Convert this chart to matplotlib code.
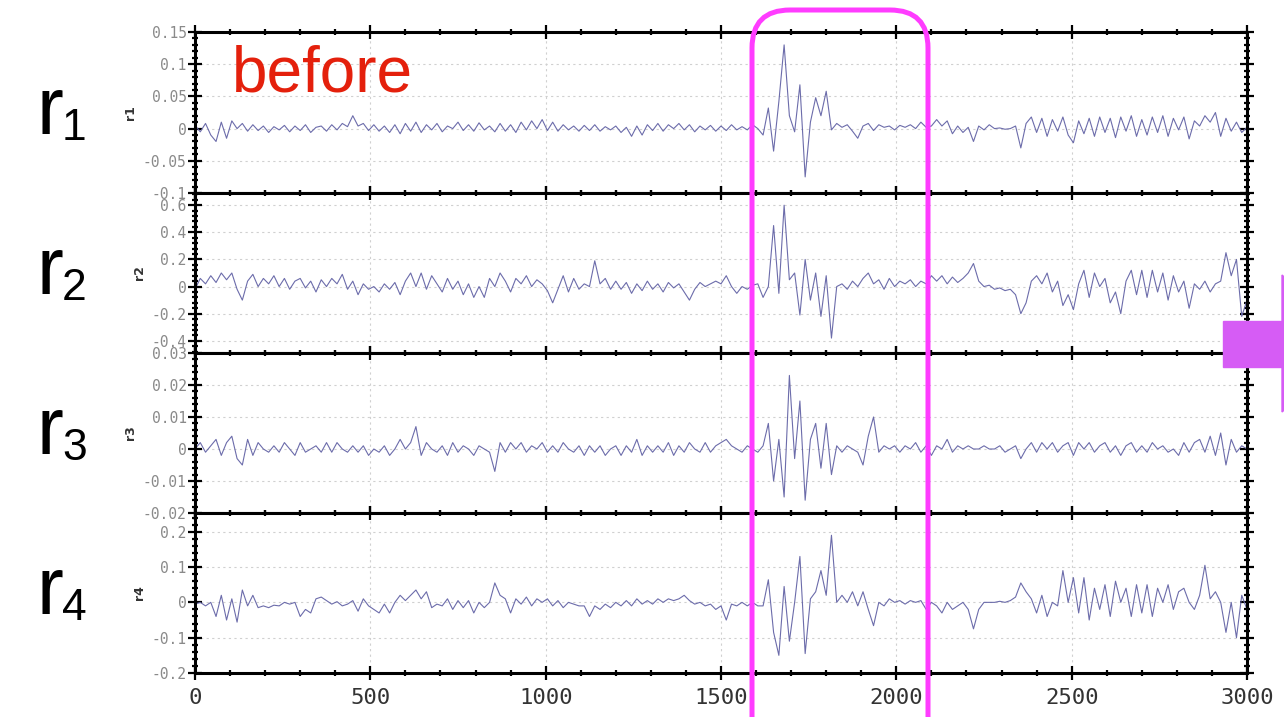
import numpy as np
import matplotlib
matplotlib.use("Agg")
import matplotlib.pyplot as plt
from matplotlib.patches import FancyBboxPatch, Rectangle, Polygon
from matplotlib.ticker import MultipleLocator, AutoMinorLocator, FuncFormatter

# sample index, one value every 15 samples
sample = np.arange(0, 3001, 15)

r1 = [0.005, -0.005, 0.008, -0.01, -0.02, 0.01, -0.015, 0.012, 0.0, 0.008, -0.004, 0.006, -0.003, 0.004, -0.006, 0.003, -0.002, 0.005, -0.005, 0.004,
      -0.003, 0.006, -0.006, 0.002, 0.004, -0.004, 0.006, -0.002, 0.008, 0.003, 0.02, 0.004, 0.008, -0.003, 0.006, -0.004, 0.004, -0.006, 0.006, -0.008,
      0.008, -0.004, 0.01, -0.006, 0.006, -0.002, 0.008, -0.005, 0.004, 0.0, 0.01, -0.003, 0.006, -0.004, 0.009, -0.002, 0.004, -0.005, 0.008, -0.004,
      0.006, -0.006, 0.01, -0.002, 0.012, 0.0, 0.014, -0.003, 0.01, -0.004, 0.006, -0.002, 0.004, -0.004, 0.005, -0.003, 0.006, -0.004, 0.003, -0.002,
      0.004, -0.006, 0.002, -0.012, 0.004, -0.01, 0.006, -0.003, 0.008, -0.004, 0.006, 0.0, 0.008, -0.002, 0.006, -0.005, 0.004, -0.002, 0.005, -0.004,
      0.004, -0.003, 0.006, -0.002, 0.003, -0.002, 0.006, 0.0, -0.01, 0.032, -0.035, 0.042, 0.13, 0.02, -0.005, 0.068, -0.075, 0.01, 0.048, 0.02,
      0.058, -0.002, 0.008, 0.002, 0.006, -0.004, -0.015, 0.004, 0.008, -0.003, 0.006, 0.002, 0.004, -0.002, 0.005, 0.002, 0.006, 0.0, 0.01, 0.002,
      0.004, 0.014, 0.004, 0.012, -0.008, 0.004, -0.006, 0.002, -0.02, 0.004, -0.002, 0.006, 0.0, 0.001, -0.001, 0.0, 0.004, -0.03, 0.008, 0.018,
      -0.006, 0.016, -0.012, 0.014, -0.004, 0.018, -0.01, -0.022, 0.012, -0.008, 0.016, -0.012, 0.018, -0.006, 0.016, -0.014, 0.018, -0.004, 0.02, -0.012,
      0.014, -0.01, 0.018, -0.006, 0.02, -0.012, 0.016, -0.002, 0.018, -0.016, 0.012, 0.004, 0.02, 0.01, 0.025, -0.012, 0.016, -0.004, 0.01, -0.006,
      0.002]

r2 = [-0.02, 0.06, 0.02, 0.08, 0.03, 0.1, 0.05, 0.1, -0.02, -0.1, 0.04, 0.09, 0.0, 0.06, 0.02, 0.08, 0.0, 0.06, -0.02, 0.04,
      0.06, -0.01, 0.04, -0.04, 0.05, 0.0, 0.06, 0.02, 0.09, -0.02, 0.04, -0.06, 0.02, -0.02, 0.0, -0.04, 0.02, -0.02, 0.03, -0.06,
      0.04, 0.1, 0.0, 0.1, -0.02, 0.08, 0.02, -0.04, 0.06, -0.02, 0.04, -0.06, 0.02, -0.08, 0.0, -0.08, 0.06, 0.0, 0.1, 0.04,
      -0.04, 0.06, 0.02, 0.08, 0.0, 0.05, 0.02, -0.03, -0.12, -0.02, 0.08, -0.04, 0.06, -0.02, 0.02, 0.0, 0.19, 0.02, 0.06, -0.02,
      0.04, -0.02, 0.03, -0.05, 0.02, -0.03, 0.04, -0.02, 0.02, -0.04, 0.03, -0.01, 0.02, -0.04, -0.1, -0.02, 0.03, 0.0, 0.02, 0.04,
      0.02, 0.08, 0.0, -0.05, 0.0, -0.02, 0.01, 0.02, -0.08, 0.0, 0.45, -0.05, 0.6, 0.05, 0.1, -0.21, 0.2, -0.1, 0.1, -0.22,
      0.08, -0.38, 0.0, 0.02, -0.02, 0.04, 0.0, 0.06, 0.1, 0.02, 0.05, -0.02, 0.06, 0.0, 0.04, 0.02, 0.05, 0.0, 0.04, 0.02,
      0.08, 0.04, 0.08, 0.02, 0.07, 0.03, 0.06, 0.1, 0.17, 0.04, 0.0, 0.01, -0.02, -0.01, -0.03, -0.02, -0.06, -0.2, -0.12, 0.04,
      0.08, 0.02, 0.1, -0.04, 0.04, -0.14, -0.06, -0.17, 0.02, 0.12, -0.08, 0.1, 0.0, 0.06, -0.12, -0.04, -0.2, 0.04, 0.12, -0.06,
      0.12, -0.08, 0.12, -0.04, 0.1, -0.1, 0.08, -0.04, 0.04, -0.16, 0.02, -0.02, 0.04, -0.04, 0.02, 0.04, 0.25, 0.08, 0.2, -0.22,
      -0.1]

r3 = [0.0, 0.002, -0.001, 0.001, 0.003, -0.002, 0.002, 0.004, -0.003, -0.005, 0.003, -0.002, 0.002, 0.0, -0.001, 0.001, -0.001, 0.002, 0.0, -0.002,
      0.002, -0.001, 0.0, 0.001, -0.001, 0.002, -0.001, 0.002, 0.0, -0.001, 0.001, -0.001, 0.001, -0.002, 0.0, -0.001, 0.001, -0.002, 0.0, 0.003,
      0.0, 0.002, 0.007, -0.002, 0.002, 0.0, -0.001, 0.001, -0.002, 0.002, -0.001, 0.001, 0.0, -0.002, 0.001, 0.0, -0.001, -0.007, 0.002, -0.001,
      0.002, 0.0, 0.002, -0.001, 0.001, 0.0, 0.002, -0.001, 0.001, -0.001, 0.002, 0.0, -0.001, 0.001, -0.002, 0.001, -0.001, 0.001, -0.002, 0.0,
      0.001, -0.002, 0.001, -0.001, 0.003, -0.002, 0.001, -0.001, 0.001, -0.001, 0.002, -0.002, 0.001, -0.001, 0.002, 0.0, -0.001, 0.002, -0.001, 0.001,
      0.002, 0.003, 0.001, 0.0, -0.001, 0.001, 0.0, -0.001, 0.001, 0.008, -0.01, 0.003, -0.015, 0.023, -0.003, 0.015, -0.016, 0.003, 0.008, -0.006,
      0.008, -0.008, 0.001, -0.001, 0.001, 0.0, -0.001, -0.005, 0.004, 0.01, -0.001, 0.001, 0.0, 0.001, -0.001, 0.001, 0.0, 0.002, -0.001, 0.001,
      -0.002, 0.001, 0.0, 0.003, -0.001, 0.001, 0.0, 0.001, 0.0, 0.0, 0.001, 0.0, 0.0, 0.001, -0.001, 0.0, 0.001, -0.003, 0.0, 0.002,
      -0.001, 0.002, 0.0, 0.002, -0.001, 0.001, 0.002, -0.002, 0.002, 0.0, 0.002, -0.001, 0.001, 0.002, -0.001, 0.001, -0.002, 0.001, 0.002, -0.001,
      0.001, -0.001, 0.002, 0.0, 0.001, -0.001, 0.0, -0.002, 0.002, -0.001, 0.002, 0.003, -0.001, 0.004, -0.002, 0.005, -0.005, 0.003, -0.001, 0.001,
      0.0]

r4 = [-0.005, 0.0, -0.01, 0.0, -0.04, 0.02, -0.05, 0.01, -0.056, 0.035, -0.01, 0.02, -0.015, -0.01, -0.015, -0.008, -0.01, 0.0, -0.005, 0.0,
      -0.04, -0.02, -0.03, 0.01, 0.015, 0.005, -0.005, 0.002, -0.01, -0.005, 0.005, -0.025, 0.01, -0.01, -0.02, -0.03, -0.005, -0.03, 0.0, 0.02,
      0.005, 0.02, 0.035, 0.01, 0.03, -0.015, -0.005, -0.01, 0.01, -0.02, 0.005, -0.015, 0.005, -0.03, 0.0, -0.015, 0.0, 0.055, 0.02, 0.01,
      -0.03, 0.01, -0.005, 0.015, -0.01, 0.01, 0.0, 0.01, -0.01, 0.005, -0.015, 0.0, -0.005, -0.01, -0.01, -0.04, -0.01, -0.02, -0.005, -0.015,
      0.0, -0.01, 0.005, -0.01, 0.01, -0.005, 0.005, -0.005, 0.01, 0.0, 0.01, 0.005, 0.01, 0.02, 0.005, -0.005, 0.0, -0.01, -0.005, -0.02,
      -0.01, -0.05, -0.005, -0.01, 0.0, -0.01, 0.0, -0.01, -0.01, 0.064, -0.085, -0.15, 0.045, -0.11, 0.0, 0.13, -0.145, 0.01, 0.03, 0.09,
      0.02, 0.19, 0.0, 0.02, 0.0, 0.03, -0.01, 0.03, -0.02, -0.066, 0.0, -0.01, 0.01, 0.0, 0.005, -0.005, 0.005, 0.0, 0.005, -0.02,
      0.0, -0.01, -0.03, 0.0, -0.02, -0.01, 0.0, -0.02, -0.075, -0.02, 0.0, 0.0, 0.0, 0.003, 0.0, 0.005, 0.015, 0.055, 0.03, 0.01,
      -0.03, 0.02, -0.04, 0.0, -0.01, 0.09, 0.0, 0.07, -0.03, 0.07, -0.05, 0.04, -0.02, 0.05, -0.04, 0.06, 0.0, 0.04, -0.04, 0.05,
      -0.03, 0.05, -0.04, 0.04, 0.0, 0.05, -0.02, 0.03, 0.04, 0.0, -0.02, 0.02, 0.105, 0.01, 0.03, 0.0, -0.085, 0.0, -0.1, 0.02,
      -0.02]

series = [r1, r2, r3, r4]
names = ["r1", "r2", "r3", "r4"]
ylims = [(-0.1, 0.15), (-0.49, 0.69), (-0.02, 0.03), (-0.2, 0.253)]
ysteps = [0.05, 0.2, 0.01, 0.1]

W, H = 12.84, 7.17
fig = plt.figure(figsize=(W, H), dpi=100)

# panel pixel rows (top, bottom)
rows = [(32, 193), (193, 353), (353, 513), (513, 673)]
left_px, right_px = 195, 1247

fmt = FuncFormatter(lambda v, p: "0" if abs(v) < 1e-9 else "%g" % v)

for k, (y, name, lim, st) in enumerate(zip(series, names, ylims, ysteps)):
    top, bot = rows[k]
    ax = fig.add_axes([left_px / 1284, 1 - bot / 717, (right_px - left_px) / 1284, (bot - top) / 717])
    ax.plot(sample, y, color="#6464a6", lw=0.8, alpha=0.95)
    ax.set_xlim(0, 3000)
    ax.set_ylim(*lim)
    ax.xaxis.set_major_locator(MultipleLocator(500))
    ax.xaxis.set_minor_locator(MultipleLocator(100))
    ax.yaxis.set_major_locator(MultipleLocator(st))
    ax.yaxis.set_minor_locator(AutoMinorLocator(5))
    ax.yaxis.set_major_formatter(fmt)
    ax.grid(True, which="major", ls=(0, (2, 3)), color="#d0d0d0", lw=0.8)
    for s in ax.spines.values():
        s.set_linewidth(2.2)
    ax.tick_params(which="both", direction="inout", top=True, right=True, width=1.6)
    ax.tick_params(which="major", length=10)
    ax.tick_params(which="minor", length=5)
    ax.tick_params(axis="y", labelsize=10.5, labelcolor="#8a8a8a", pad=1)
    ax.tick_params(axis="x", labelsize=16, labelcolor="#333333", pad=6)
    for lab in ax.get_yticklabels():
        lab.set_family("DejaVu Sans Mono")
    if k < 3:
        ax.set_xticklabels([])
    else:
        for lab in ax.get_xticklabels():
            lab.set_family("DejaVu Sans Mono")
    ax.set_ylabel(name, fontsize=9, color="#333333", labelpad=4, fontweight="bold")

    # big row label, r with subscript
    cy = (top + bot) / 2
    fig.text(37 / 1284, 1 - (cy + 21) / 717, "r", fontsize=58, family="Liberation Sans",
             color="black", ha="left", va="baseline")
    fig.text(62 / 1284, 1 - (cy + 27) / 717, str(k + 1), fontsize=32, family="Liberation Sans",
             color="black", ha="left", va="baseline")

fig.text(232 / 1284, 1 - 92 / 717, "before", fontsize=46, family="Liberation Sans",
         color="#e4200c", ha="left", va="baseline")

# highlight box, in inches
box = FancyBboxPatch((7.52, -1.0), 1.76, 8.07, boxstyle="round,pad=0,rounding_size=0.38",
                     transform=fig.dpi_scale_trans, fill=False, ec="#ff3cff", lw=3.6,
                     clip_on=False)
fig.patches.append(box)

# arrow on the right edge
fig.patches.append(Rectangle((12.23, 3.50), 0.7, 0.46, transform=fig.dpi_scale_trans,
                             color="#d65cf5", clip_on=False))
fig.patches.append(Polygon([(12.82, 4.42), (12.82, 3.05), (13.6, 3.73)], closed=True,
                           transform=fig.dpi_scale_trans, color="#d65cf5", clip_on=False))

fig.savefig("out.png", dpi=100)
